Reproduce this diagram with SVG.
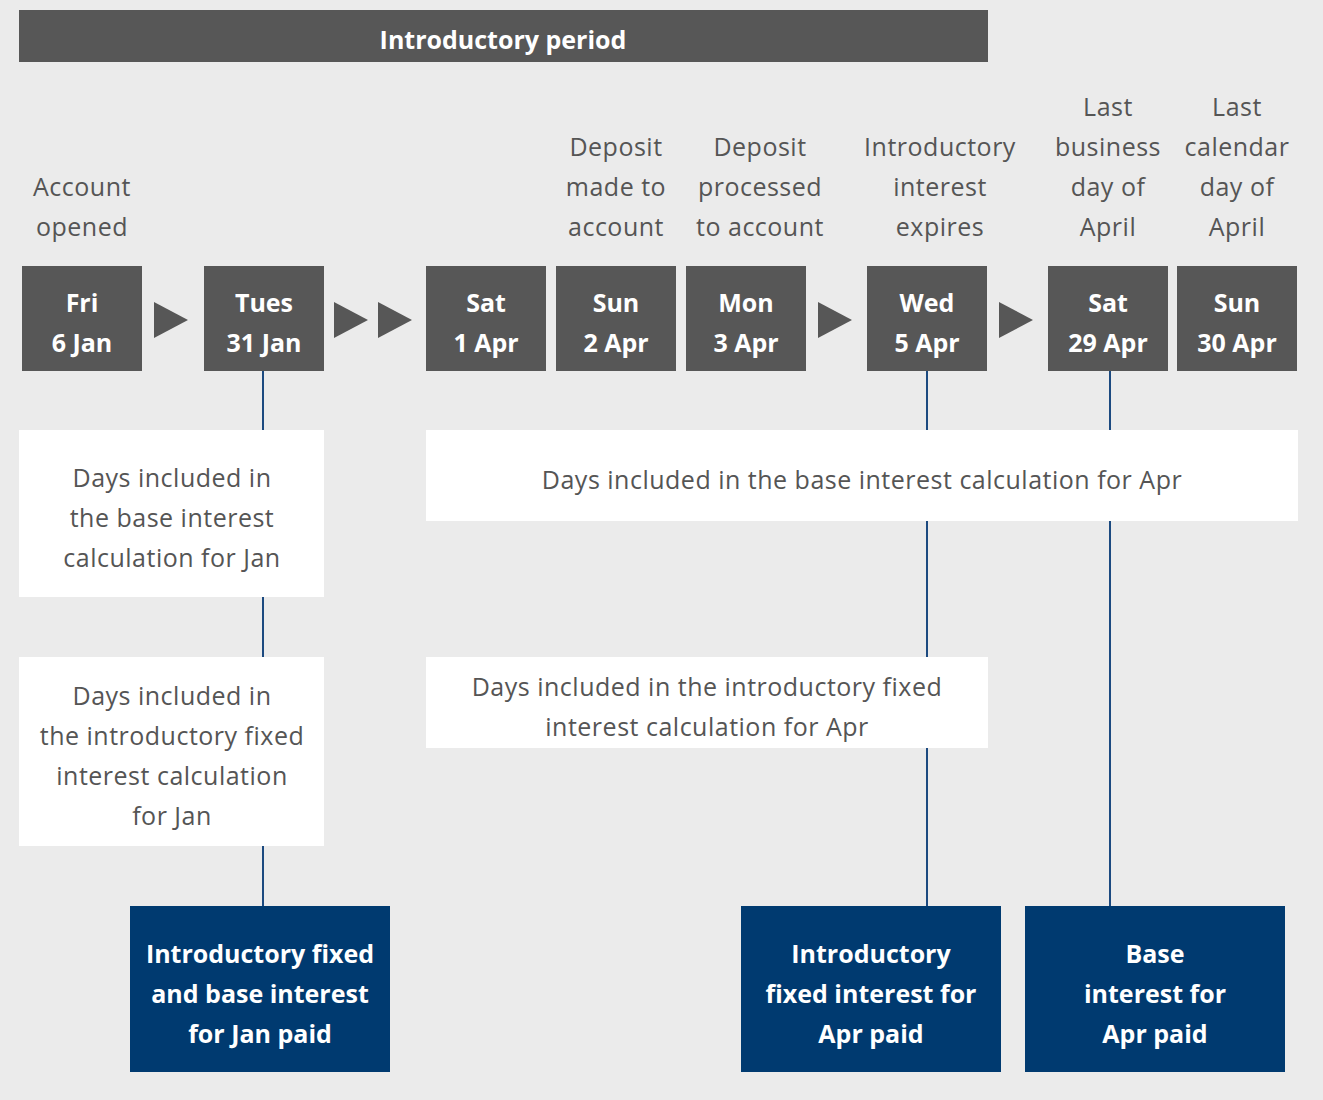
<svg xmlns="http://www.w3.org/2000/svg" width="1323" height="1100" viewBox="0 0 1323 1100">
<style>
text{font-family:"Open Sans","Liberation Sans",sans-serif;font-size:25px;text-anchor:middle;}
.lbl{fill:#555555;letter-spacing:0.5px;}
.wt{fill:#ffffff;font-weight:700;}
.date{fill:#575757;}
.note{fill:#ffffff;}
.pay{fill:#003a70;}
.tri{fill:#575757;}
.conn{stroke:#1c4a80;stroke-width:2;fill:none;}
</style>
<rect x="0" y="0" width="1323" height="1100" fill="#ebebeb"/>
<g id="connectors">
<line class="conn" x1="263" y1="371" x2="263" y2="906"/>
<line class="conn" x1="927" y1="371" x2="927" y2="906"/>
<line class="conn" x1="1110" y1="371" x2="1110" y2="906"/>
</g>
<g id="header">
<rect x="19" y="10" width="969" height="52" fill="#575757"/>
<text class="wt" x="503" y="49">Introductory period</text>
</g>
<g id="labels">
<text class="lbl" x="82" y="196">Account</text>
<text class="lbl" x="82" y="236">opened</text>
<text class="lbl" x="616" y="156">Deposit</text>
<text class="lbl" x="616" y="196">made to</text>
<text class="lbl" x="616" y="236">account</text>
<text class="lbl" x="760" y="156">Deposit</text>
<text class="lbl" x="760" y="196">processed</text>
<text class="lbl" x="760" y="236">to account</text>
<text class="lbl" x="940" y="156">Introductory</text>
<text class="lbl" x="940" y="196">interest</text>
<text class="lbl" x="940" y="236">expires</text>
<text class="lbl" x="1108" y="116">Last</text>
<text class="lbl" x="1108" y="156">business</text>
<text class="lbl" x="1108" y="196">day of</text>
<text class="lbl" x="1108" y="236">April</text>
<text class="lbl" x="1237" y="116">Last</text>
<text class="lbl" x="1237" y="156">calendar</text>
<text class="lbl" x="1237" y="196">day of</text>
<text class="lbl" x="1237" y="236">April</text>
</g>
<g id="arrows">
<polygon class="tri" points="154,302 188,320 154,338"/>
<polygon class="tri" points="334,302 368,320 334,338"/>
<polygon class="tri" points="378,302 412,320 378,338"/>
<polygon class="tri" points="818,302 852,320 818,338"/>
<polygon class="tri" points="999,302 1033,320 999,338"/>
</g>
<g id="d-fri6jan"><rect class="date" x="22" y="266" width="120" height="105"/><text class="wt" x="82" y="312">Fri</text><text class="wt" x="82" y="352">6 Jan</text></g>
<g id="d-tue31jan"><rect class="date" x="204" y="266" width="120" height="105"/><text class="wt" x="264" y="312">Tues</text><text class="wt" x="264" y="352">31 Jan</text></g>
<g id="d-sat1apr"><rect class="date" x="426" y="266" width="120" height="105"/><text class="wt" x="486" y="312">Sat</text><text class="wt" x="486" y="352">1 Apr</text></g>
<g id="d-sun2apr"><rect class="date" x="556" y="266" width="120" height="105"/><text class="wt" x="616" y="312">Sun</text><text class="wt" x="616" y="352">2 Apr</text></g>
<g id="d-mon3apr"><rect class="date" x="686" y="266" width="120" height="105"/><text class="wt" x="746" y="312">Mon</text><text class="wt" x="746" y="352">3 Apr</text></g>
<g id="d-wed5apr"><rect class="date" x="867" y="266" width="120" height="105"/><text class="wt" x="927" y="312">Wed</text><text class="wt" x="927" y="352">5 Apr</text></g>
<g id="d-sat29apr"><rect class="date" x="1048" y="266" width="120" height="105"/><text class="wt" x="1108" y="312">Sat</text><text class="wt" x="1108" y="352">29 Apr</text></g>
<g id="d-sun30apr"><rect class="date" x="1177" y="266" width="120" height="105"/><text class="wt" x="1237" y="312">Sun</text><text class="wt" x="1237" y="352">30 Apr</text></g>
<g id="n-base-jan"><rect class="note" x="19" y="430" width="305" height="167"/>
<text class="lbl" x="172" y="487">Days included in</text>
<text class="lbl" x="172" y="527">the base interest</text>
<text class="lbl" x="172" y="567">calculation for Jan</text></g>
<g id="n-base-apr"><rect class="note" x="426" y="430" width="872" height="91"/>
<text class="lbl" x="862" y="489">Days included in the base interest calculation for Apr</text></g>
<g id="n-fixed-jan"><rect class="note" x="19" y="657" width="305" height="189"/>
<text class="lbl" x="172" y="705">Days included in</text>
<text class="lbl" x="172" y="745">the introductory fixed</text>
<text class="lbl" x="172" y="785">interest calculation</text>
<text class="lbl" x="172" y="825">for Jan</text></g>
<g id="n-fixed-apr"><rect class="note" x="426" y="657" width="562" height="91"/>
<text class="lbl" x="707" y="696">Days included in the introductory fixed</text>
<text class="lbl" x="707" y="736">interest calculation for Apr</text></g>
<g id="p-jan"><rect class="pay" x="130" y="906" width="260" height="166"/>
<text class="wt" x="260" y="963">Introductory fixed</text>
<text class="wt" x="260" y="1003">and base interest</text>
<text class="wt" x="260" y="1043">for Jan paid</text></g>
<g id="p-fixed-apr"><rect class="pay" x="741" y="906" width="260" height="166"/>
<text class="wt" x="871" y="963">Introductory</text>
<text class="wt" x="871" y="1003">fixed interest for</text>
<text class="wt" x="871" y="1043">Apr paid</text></g>
<g id="p-base-apr"><rect class="pay" x="1025" y="906" width="260" height="166"/>
<text class="wt" x="1155" y="963">Base</text>
<text class="wt" x="1155" y="1003">interest for</text>
<text class="wt" x="1155" y="1043">Apr paid</text></g>
</svg>
